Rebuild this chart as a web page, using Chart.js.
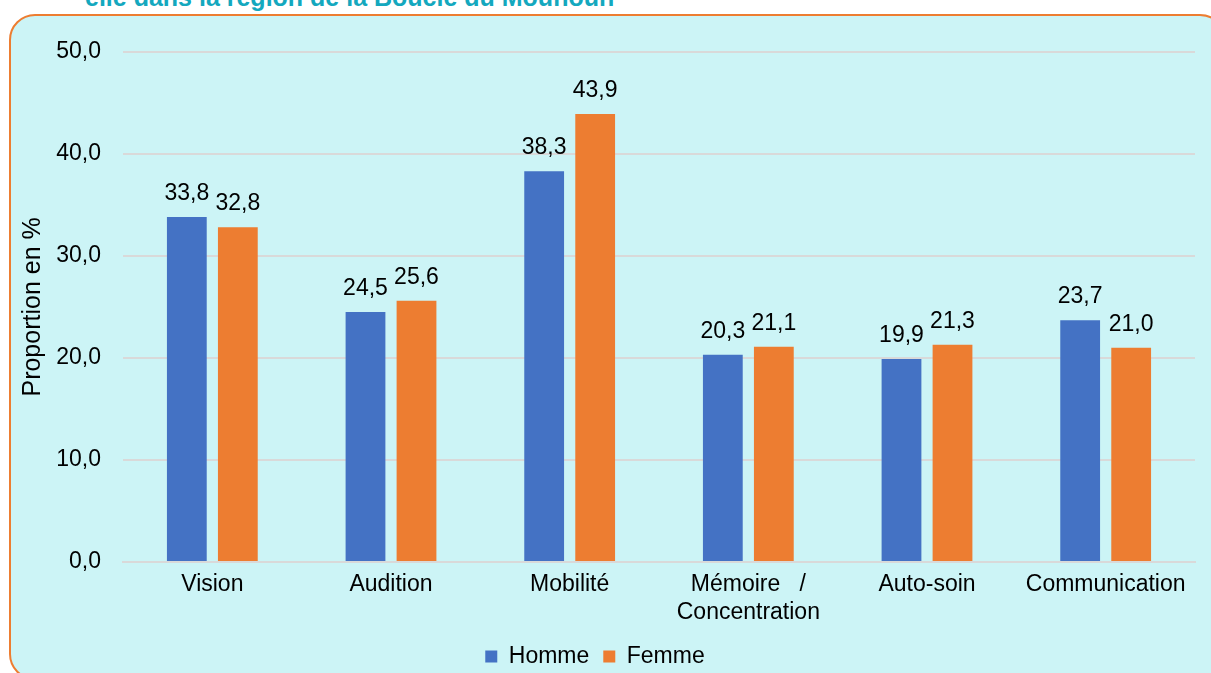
<!DOCTYPE html>
<html>
<head>
<meta charset="utf-8">
<script src="https://cdn.jsdelivr.net/npm/chart.js@4"></script>
<style>
  html, body { margin: 0; padding: 0; background: #fff; overflow: hidden; }
  body { width: 1211px; height: 673px; position: relative; font-family: "Liberation Sans", Arial, sans-serif; }
  .caption {
    position: absolute; left: 85px; top: -15px;
    font-size: 25px; line-height: 1; font-weight: bold; color: #14A8BE; white-space: nowrap;
  }
  .frame {
    position: absolute; left: 9px; top: 14px; width: 1217px; height: 666px;
    box-sizing: border-box; border: 2px solid #ED7D31; border-radius: 26px;
    background: #CCF4F6; overflow: hidden;
  }
  .frame canvas { position: absolute; left: 0; top: 0; }
</style>
</head>
<body>
<div class="caption">elle dans la région de la Boucle du Mouhoun</div>
<div class="frame">
  <canvas id="chart" width="1213" height="662"></canvas>
</div>
<script>
const categories = ['Vision', 'Audition', 'Mobilité', ['Mémoire   /', 'Concentration'], 'Auto-soin', 'Communication'];
const homme = [33.8, 24.5, 38.3, 20.3, 19.9, 23.7];
const femme = [32.8, 25.6, 43.9, 21.1, 21.3, 21.0];
const yTicks = [0, 10, 20, 30, 40, 50];

const fmt = v => v.toFixed(1).replace('.', ',');
const FONT = '"Liberation Sans", Arial, sans-serif';

// values drawn above each bar
const barLabels = {
    id: 'barLabels',
    afterDatasetsDraw(chart) {
        const ctx = chart.ctx;
        ctx.save();
        ctx.font = '23px ' + FONT;
        ctx.fillStyle = '#000';
        ctx.textAlign = 'center';
        ctx.textBaseline = 'alphabetic';
        chart.data.datasets.forEach((ds, i) => {
            chart.getDatasetMeta(i).data.forEach((bar, j) => {
                ctx.fillText(fmt(ds.data[j]), bar.x, bar.y - 17);
            });
        });
        ctx.restore();
    }
};

// nudge the legend a little to the left, like the original
const legendShift = {
    id: 'legendShift',
    afterLayout(chart) {
        if (chart.legend) {
            chart.legend.left -= 8;
            chart.legend.right -= 8;
        }
    }
};

new Chart(document.getElementById('chart'), {
    type: 'bar',
    data: {
        labels: categories,
        datasets: [
            { label: 'Homme', data: homme, backgroundColor: '#4472C4' },
            { label: 'Femme', data: femme, backgroundColor: '#ED7D31' }
        ]
    },
    options: {
        responsive: false,
        animation: false,
        categoryPercentage: 0.571,
        barPercentage: 0.78,
        layout: { padding: { left: 0, right: 29, top: 33, bottom: 0 } },
        plugins: {
            legend: {
                position: 'bottom',
                labels: {
                    boxWidth: 12,
                    boxHeight: 12,
                    padding: 14,
                    color: '#000',
                    font: { family: FONT, size: 23 }
                }
            },
            tooltip: { enabled: false }
        },
        scales: {
            x: {
                grid: { display: false, drawTicks: false },
                border: { color: '#D9D9D9', width: 2 },
                ticks: {
                    color: '#000',
                    padding: 9,
                    maxRotation: 0,
                    autoSkip: false,
                    font: { family: FONT, size: 23 }
                },
                afterFit(scale) { scale.height = 69; }
            },
            y: {
                min: 0,
                max: 50,
                afterBuildTicks(scale) { scale.ticks = yTicks.map(v => ({ value: v })); },
                grid: { color: '#D9D9D9', lineWidth: 2, drawTicks: false },
                border: { display: false },
                ticks: {
                    color: '#000',
                    padding: 22,
                    callback: v => fmt(v),
                    font: { family: FONT, size: 23 }
                },
                title: {
                    display: true,
                    text: 'Proportion en %',
                    color: '#000',
                    padding: { top: 7, bottom: 0 },
                    font: { family: FONT, size: 25 }
                },
                afterFit(scale) { scale.width = 112; }
            }
        }
    },
    plugins: [barLabels, legendShift]
});
</script>
</body>
</html>
